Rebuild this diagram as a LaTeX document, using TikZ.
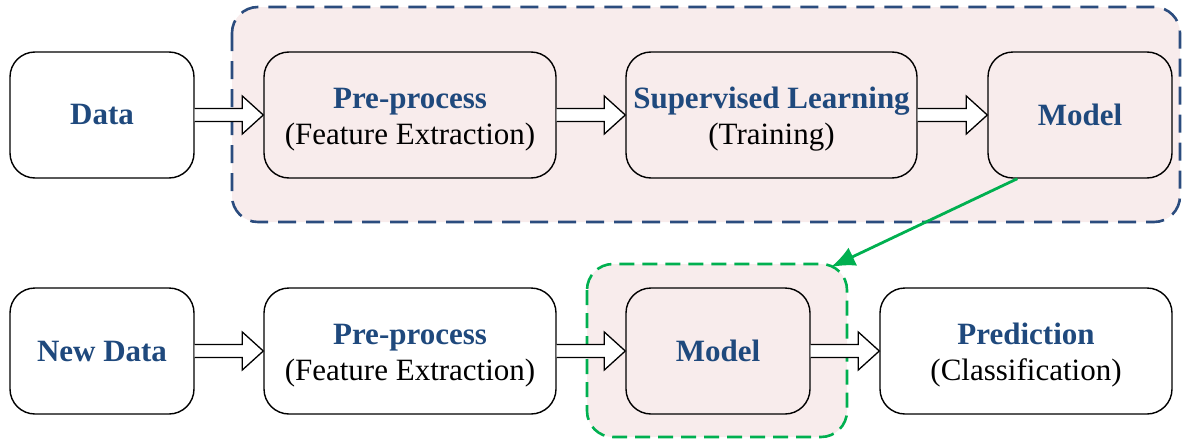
\documentclass[tikz,border=0pt]{standalone}
\usepackage{fontspec}
\setmainfont{Liberation Serif}
\usetikzlibrary{calc,arrows.meta}
\definecolor{tblue}{HTML}{1F497D}
\definecolor{dblue}{HTML}{2B4C7E}
\definecolor{pinkfill}{HTML}{F8ECEC}
\definecolor{ggreen}{HTML}{00B050}
\tikzset{
  box/.style={draw=black, line width=1.4pt, rounded corners=25pt, minimum height=126pt, align=center, inner sep=0pt, font=\fontsize{31}{36}\selectfont},
  pinkbox/.style={box, fill=pinkfill},
  whitebox/.style={box, fill=white},
  hollow/.style={draw=black, fill=white, line width=1.3pt, line join=miter},
  bluegroup/.style={draw=dblue, fill=pinkfill, line width=2.6pt, dash pattern=on 18pt off 10pt, rounded corners=26pt},
  greengroup/.style={draw=ggreen, fill=pinkfill, line width=2.6pt, dash pattern=on 15pt off 8pt, rounded corners=26pt},
  greenarrow/.style={draw=ggreen, line width=2.8pt, -{Latex[length=24pt,width=20pt]}},
}
\newcommand{\hl}[1]{\textcolor{tblue}{\textbf{#1}}}
\newcommand{\dn}{\rule{0pt}{29pt}}
\newcommand{\hollowarrow}[2]{%
  \path[hollow] ($(#1.east)+(0,6.5)$) -- ($(#2.west)+(-21,6.5)$) -- ($(#2.west)+(-21,19)$) -- (#2.west)
    -- ($(#2.west)+(-21,-19)$) -- ($(#2.west)+(-21,-6.5)$) -- ($(#1.east)+(0,-6.5)$);}
\begin{document}
\begin{tikzpicture}[x=1pt,y=1pt]
\useasboundingbox (0,0) rectangle (1183,-439);
% groups
\path[bluegroup] (232,-7) rectangle (1180,-222);
\path[greengroup] (587,-264) rectangle (847,-437);
% top row
\node[whitebox, minimum width=184pt] (data) at (102,-115) {\hl{Data}};
\node[pinkbox, minimum width=292pt] (pre1) at (410,-115) {\dn\hl{Pre-process}\\(Feature Extraction)};
\node[pinkbox, minimum width=291pt] (sup) at (771.5,-115) {\dn\hl{Supervised Learning}\\(Training)};
\node[pinkbox, minimum width=184pt] (mod1) at (1080,-115) {\hl{Model}};
% bottom row
\node[whitebox, minimum width=184pt] (new) at (102,-351) {\hl{New Data}};
\node[whitebox, minimum width=292pt] (pre2) at (410,-351) {\dn\hl{Pre-process}\\(Feature Extraction)};
\node[pinkbox, minimum width=184pt] (mod2) at (718,-351) {\hl{Model}};
\node[whitebox, minimum width=292pt] (pred) at (1026,-351) {\dn\hl{Prediction}\\(Classification)};
% arrows
\hollowarrow{data}{pre1}
\hollowarrow{pre1}{sup}
\hollowarrow{sup}{mod1}
\hollowarrow{new}{pre2}
\hollowarrow{pre2}{mod2}
\hollowarrow{mod2}{pred}
\coordinate (gstart) at ($(mod1.south west)+(30,0)$);
\coordinate (gend) at (831,-267);
\draw[greenarrow] (gstart) -- (gend);
\end{tikzpicture}
\end{document}
